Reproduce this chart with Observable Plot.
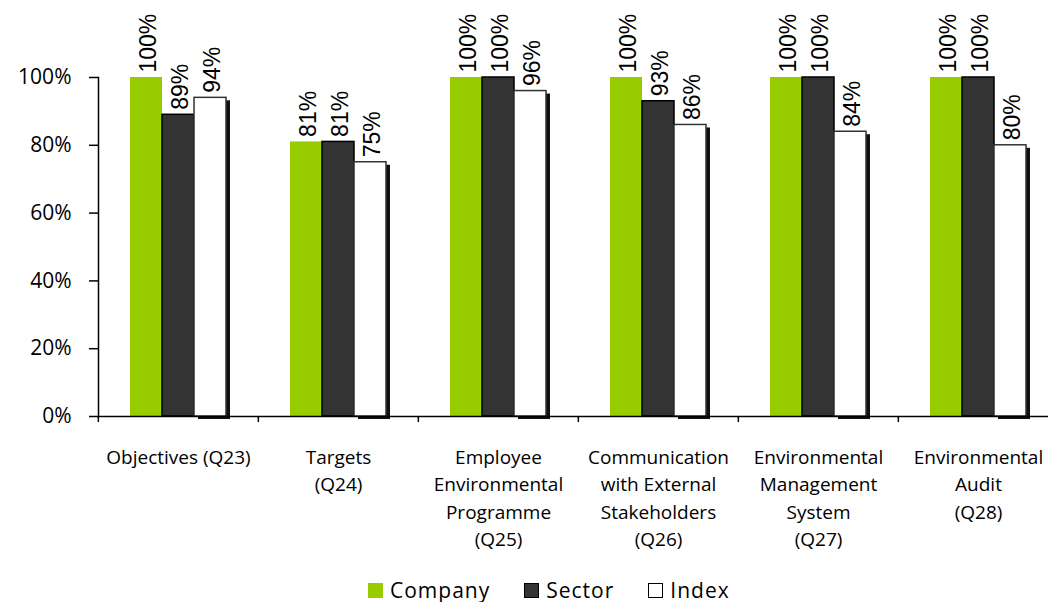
<!DOCTYPE html>
<html><head><meta charset="utf-8">
<script src="https://cdn.jsdelivr.net/npm/d3@7"></script>
<script src="https://cdn.jsdelivr.net/npm/@observablehq/plot@0.6"></script>
<style>
body{margin:0;background:#fff;font-family:"Open Sans",sans-serif;}
#chart svg{display:block;}
#legend{display:flex;align-items:center;height:30px;padding-top:3px;padding-left:368px;font-size:21px;letter-spacing:1px;color:#000;}
#legend .item{display:flex;align-items:center;margin-right:34px;}
#legend .sw{width:15px;height:15px;margin-right:7px;box-sizing:border-box;}
</style></head><body><div id="chart"></div><div id="legend"></div><script>
const categories = ["Q23","Q24","Q25","Q26","Q27","Q28"];
const categoryLabels = [
  "Objectives (Q23)",
  "Targets\n(Q24)",
  "Employee\nEnvironmental\nProgramme\n(Q25)",
  "Communication\nwith External\nStakeholders\n(Q26)",
  "Environmental\nManagement\nSystem\n(Q27)",
  "Environmental\nAudit\n(Q28)"
];
const series = ["Company","Sector","Index"];
const company = [1.00, 0.81, 1.00, 1.00, 1.00, 1.00];
const sector  = [0.89, 0.81, 1.00, 0.93, 1.00, 1.00];
const index   = [0.94, 0.75, 0.96, 0.86, 0.84, 0.80];
const fills   = ["#99cc00", "#333333", "#ffffff"];
const strokes = ["none", "#000000", "#333333"];
const yTicks  = [0, 0.2, 0.4, 0.6, 0.8, 1.0];

const valuesBySeries = [company, sector, index];
const rows = [];
categories.forEach((c, i) => series.forEach((s, j) => rows.push({category: c, series: s, value: valuesBySeries[j][i]})));
const labelOf = new Map(categories.map((c, i) => [c, categoryLabels[i]]));
const fillOf = new Map(series.map((s, j) => [s, fills[j]]));
const strokeOf = new Map(series.map((s, j) => [s, strokes[j]]));

const W = 1048, H = 572, ML = 97, MR = -11;
const band = (W - MR - ML) / categories.length;

const plot = Plot.plot({
  width: W, height: H,
  marginLeft: ML, marginRight: MR, marginTop: 77, marginBottom: H - 416,
  style: {fontFamily: "Open Sans", background: "white", color: "black", overflow: "visible"},
  fx: {domain: categories, padding: 0, label: null},
  x: {domain: series, paddingInner: 0, paddingOuter: 1, axis: null},
  y: {domain: [0, 1], label: null},
  marks: [
    Plot.barY(rows.filter(d => d.series === "Index"), {fx: "category", x: "series", y: "value", fill: "#111", dx: 4, dy: 3}),
    Plot.barY(rows, {fx: "category", x: "series", y: "value",
      fill: d => fillOf.get(d.series), stroke: d => strokeOf.get(d.series), strokeWidth: 1.5}),
    Plot.ruleY([0], {stroke: "black", strokeWidth: 1.5}),
    Plot.frame({anchor: "left", facetAnchor: "left", stroke: "black", strokeWidth: 1.5}),
    Plot.axisY({ticks: yTicks, tickFormat: d3.format(".0%"), tickSize: 9, tickPadding: 18, fontSize: 21,
      letterSpacing: "1.3px", label: null, strokeWidth: 1.5}),
    Plot.axisFx({anchor: "bottom", text: null, tickSize: 6, dx: -band / 2, label: null, strokeWidth: 1.5}),
    Plot.axisFx({anchor: "bottom", tickSize: 0, tickPadding: 28, fontSize: 19, lineHeight: 1.44,
      letterSpacing: "0.5px", tickFormat: d => labelOf.get(d), label: null}),
    Plot.text(rows, {fx: "category", x: "series", y: "value", text: d => d3.format(".0%")(d.value),
      rotate: -90, textAnchor: "start", lineAnchor: "middle", dy: -5, dx: 2, fontSize: 23, fontFamily: "Liberation Sans", fill: "black"})
  ]
});
document.getElementById("chart").appendChild(plot);

const legend = document.getElementById("legend");
series.forEach((s, j) => {
  const item = document.createElement("div");
  item.className = "item";
  const sw = document.createElement("span");
  sw.className = "sw";
  sw.style.background = fills[j];
  sw.style.border = j === 0 ? "none" : "1.5px solid #000";
  item.appendChild(sw);
  item.appendChild(document.createTextNode(s));
  legend.appendChild(item);
});
</script></body></html>
